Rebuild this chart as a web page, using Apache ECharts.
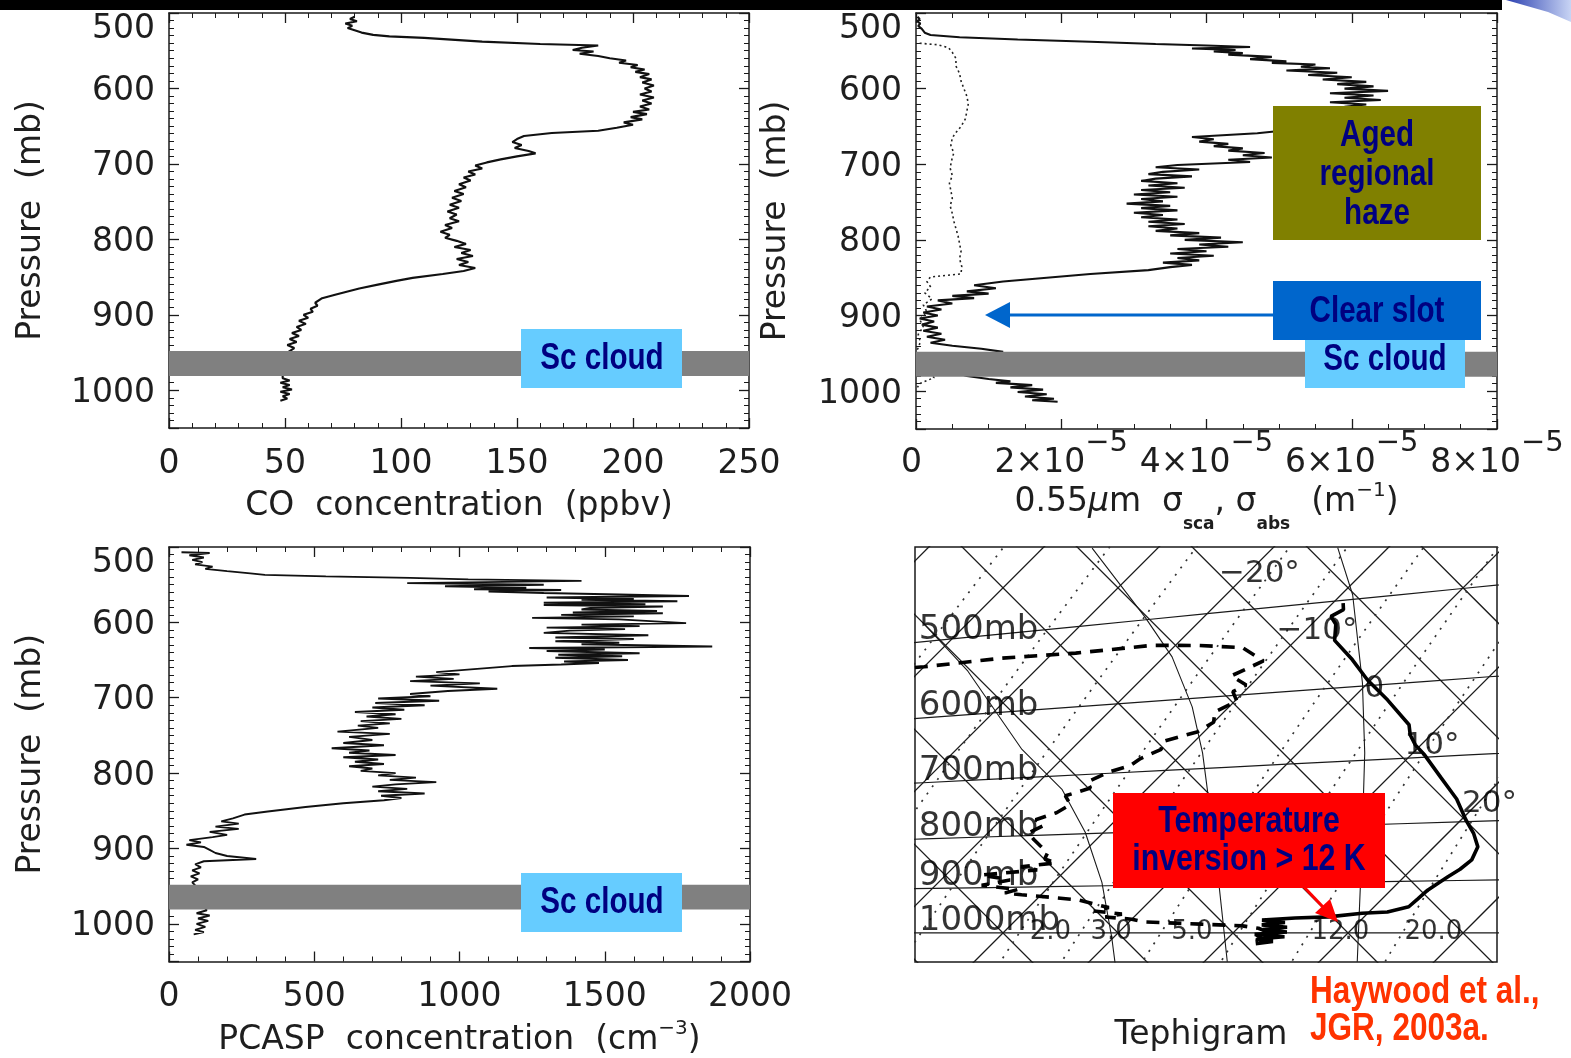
<!DOCTYPE html>
<html>
<head>
<meta charset="utf-8">
<title>Aerosol and thermodynamic profiles</title>
<script src="https://cdn.jsdelivr.net/npm/echarts@6/dist/echarts.min.js"></script>
<style>
  html, body { margin: 0; padding: 0; background: #fff; }
  #main { width: 1571px; height: 1058px; }
</style>
</head>
<body>
<div id="main"></div>
<script>
// ---- data ----
// [value, pressure mb]
const coProfile = [
  [80,505],[78,508],[81,511],[76,514],[79,517],[77,520],[80,523],[83,526],[88,529],[95,531],[110,533],[135,538],
  [160,541],[185,543],[178,546],[174,549],[183,551],[177,554],[185,557],[190,560],[197,563],[194,566],[202,569],
  [199,572],[205,575],[201,578],[207,581],[203,585],[208,588],[204,592],[209,596],[205,600],[208,604],[203,608],
  [209,612],[204,616],[208,620],[203,624],[207,628],[200,631],[206,634],[199,638],[204,641],[196,645],[200,648],
  [193,652],[185,656],[165,659],[153,663],[150,667],[148,671],[152,675],[149,679],[155,683],[158,686],[150,690],
  [143,694],[137,698],[132,702],[135,706],[129,710],[132,714],[127,718],[130,722],[125,727],[128,731],[123,736],
  [127,740],[122,745],[126,749],[121,754],[125,758],[120,763],[124,767],[121,772],[125,776],[119,781],[122,785],
  [117,790],[121,794],[119,798],[124,802],[128,806],[123,810],[130,814],[126,818],[131,822],[124,826],[129,830],
  [125,834],[132,838],[127,842],[118,846],[105,851],[98,855],[90,860],[82,865],[77,869],[72,873],[66,878],[63,884],
  [64,888],[61,892],[62,896],[58,900],[60,904],[56,908],[59,912],[55,916],[57,920],[53,924],[56,928],[52,932],
  [55,936],[51,940],[54,944],[52,948],[50,952],[51,960],[50,970],[49,980],
  [49,984],[52,987],[48,990],[52,993],[49,996],[53,999],[48,1002],[52,1005],[49,1008],[51,1011],[48,1014]
];
// 0.55 um scattering and absorption, in units of 1e-5 m^-1
const scatProfile = [
  [0.02,505],[0.05,508],[0.02,511],[0.06,514],[0.03,517],[0.08,521],[0.12,526],[0.2,529],[0.6,532],[1.4,535],
  [2.4,538],[3.3,541],[4.0,543],[4.6,545],[3.8,547],[4.4,549],[4.1,551],[4.5,553],[4.3,555],[4.9,558],[4.6,561],
  [5.1,564],[4.9,566],[5.5,568],[5.3,571],[5.7,573],[5.1,576],[5.8,579],[5.4,582],[6.0,585],[5.6,588],[6.2,591],
  [5.8,594],[6.3,597],[5.9,600],[6.5,603],[5.7,606],[6.3,609],[5.9,612],[6.4,615],[5.7,618],[6.2,621],[5.9,624],
  [6.0,630],[5.8,640],[5.5,650],[5.0,656],[4.7,659],[3.8,664],[4.1,667],[3.9,670],[4.3,673],[4.1,676],[4.5,679],
  [4.3,682],[4.8,685],[4.5,688],[4.9,691],[4.3,694],[4.6,697],[3.6,701],[3.3,704],[3.9,707],[3.4,710],[3.2,713],
  [3.8,716],[3.3,719],[3.1,722],[3.6,725],[3.2,728],[3.7,731],[3.1,734],[3.5,737],[3.0,740],[3.6,743],[3.1,746],
  [3.4,749],[2.9,752],[3.5,755],[3.1,758],[3.6,761],[3.0,764],[3.4,767],[3.1,770],[3.6,773],[3.2,776],[3.7,779],
  [3.2,782],[3.6,785],[3.3,788],[3.9,791],[3.5,794],[4.2,797],[3.7,800],[4.5,803],[3.9,806],[4.3,809],[3.6,812],
  [4.0,815],[3.5,818],[4.1,821],[3.6,824],[3.9,827],[3.4,830],[3.8,833],[3.5,836],[3.2,840],[2.4,845],[1.8,850],
  [1.2,855],[0.8,860],[1.1,864],[0.7,868],[1.0,871],[0.5,874],[0.8,877],[0.3,880],[0.5,884],[0.15,888],[0.35,892],
  [0.1,896],[0.3,900],[0.05,904],[0.25,908],[0.08,912],[0.3,916],[0.1,920],[0.35,924],[0.15,928],[0.4,932],
  [0.2,936],[0.5,940],[0.9,944],[1.2,948],[0.6,956],[0.3,968],[0.7,980],
  [1.0,984],[1.3,987],[1.1,989],[1.6,992],[1.3,995],[1.75,998],[1.4,1001],[1.8,1004],[1.5,1007],[1.9,1010],[1.6,1012],[1.95,1014]
];
const absProfile = [
  [0.05,540],[0.3,542],[0.45,546],[0.5,552],[0.55,560],[0.55,570],[0.6,580],[0.62,590],[0.66,600],[0.7,610],
  [0.72,620],[0.7,630],[0.68,640],[0.62,650],[0.55,658],[0.5,665],[0.48,675],[0.52,685],[0.49,695],[0.47,705],
  [0.5,715],[0.46,725],[0.48,735],[0.5,745],[0.47,755],[0.5,765],[0.52,775],[0.55,785],[0.58,795],[0.6,805],
  [0.62,815],[0.6,825],[0.63,835],[0.62,845],[0.2,849],[0.15,855],[0.2,862],[0.12,870],[0.22,878],[0.1,886],
  [0.15,895],[0.05,905],[0.1,915],[0.03,925],[0.06,935],[0.02,945],[0.05,965],
  [0.25,982],[0.15,986],[0.05,990],[0.02,995]
];
const pcaspProfile = [
  [43,507],[140,508],[70,511],[120,514],[80,517],[115,520],[90,523],[150,526],[125,529],[200,532],[280,535],
  [330,537],[540,539],[830,541],[1030,543],[1420,545],[1220,546],[820,548],[1290,550],[950,552],[1230,554],
  [1050,556],[1350,557],[1100,559],[1290,561],[1550,563],[1790,565],[1300,567],[1600,569],[1420,570],[1750,572],
  [1290,574],[1640,576],[1290,577],[1700,579],[1450,581],[1420,583],[1680,585],[1390,587],[1700,588],[1350,590],
  [1600,592],[1250,594],[1550,596],[1780,601],[1420,603],[1620,605],[1300,607],[1570,609],[1380,611],[1290,614],
  [1650,617],[1330,620],[1600,622],[1330,625],[1550,627],[1420,629],[1870,632],[1240,634],[1500,636],[1300,638],
  [1620,641],[1340,643],[1560,645],[1330,647],[1580,650],[1360,652],[1480,654],[1350,656],[1180,658],[1050,662],
  [920,666],[1000,669],[850,672],[980,675],[830,678],[1070,681],[900,684],[1130,688],[960,691],[830,695],[900,698],
  [720,701],[930,704],[710,707],[880,710],[700,713],[810,716],[640,719],[780,722],[680,725],[800,728],[660,731],
  [760,734],[650,737],[720,740],[580,745],[760,748],[620,752],[700,756],[600,760],[740,763],[560,767],[690,770],
  [620,773],[780,776],[600,779],[720,782],[640,785],[740,788],[620,791],[700,794],[660,797],[780,800],[720,803],
  [850,806],[760,809],[920,812],[780,815],[700,818],[820,821],[720,824],[880,827],[730,830],[800,833],[740,836],
  [600,840],[470,845],[340,851],[260,855],[220,860],[180,864],[240,867],[160,871],[240,874],[140,878],[200,882],
  [150,885],[70,889],[110,892],[60,895],[120,898],[140,902],[160,906],[200,910],[300,914],[120,917],[90,921],
  [110,925],[80,929],[105,933],[75,937],[100,941],[80,945],[90,949],[95,965],
  [130,982],[95,986],[140,989],[100,993],[135,996],[95,1000],[125,1004],[90,1008],[120,1011],[85,1014]
];
const scCloudBand = [948, 981];

const pressureRange = [500, 1050];
const pressureStep = 100;
const coRange = [0, 250];
const coStep = 50;
const sigmaRange = [0, 8];   // x 1e-5 m^-1
const sigmaStep = 2;
const pcaspRange = [0, 2000];
const pcaspStep = 500;

// tephigram sounding, [pressure mb, temperature C]
const tempProfile = [
  [503,-9.1],[510,-8.5],[516,-9.0],[525,-7.9],[543,-6.6],[567,-3.4],[593,-0.3],[620,3.2],[654,7.2],[668,8.2],
  [682,9.5],[697,11.2],[730,14.5],[764,17.8],[797,20.4],[820,22.3],[842,23.8],[864,24.4],[880,24.2],[893,23.8],
  [905,23.5],[917,23.2],[933,23.1],[948,23.0],[958,21.6],[960,19.5],[967,16.9],[969,14.1],[973,11.4],[978,13.6],
  [983,11.8],[988,14.2],[993,12.3],[998,14.6],[1003,12.0],[1008,14.8],[1013,12.6],[1018,14.2],[1023,12.9]
];
const dewProfile = [
  [530,-46],[531,-40],[529,-34],[531,-28],[530,-22],[535,-18],[542,-14],[560,-11],[575,-12.5],[588,-10.4],
  [595,-11],[608,-9.8],[620,-10.8],[634,-10],[646,-10.6],[657,-12.8],[668,-12.2],[680,-13.2],[690,-13.5],
  [698,-14.8],[712,-15.8],[722,-15],[733,-16.5],[748,-15.3],[761,-15.8],[772,-17],[783,-15.8],[795,-16.5],
  [808,-15.4],[820,-14.3],[833,-13.1],[845,-12.8],[853,-11.5],[859,-14.2],[866,-12.5],[874,-16.9],[885,-14],
  [895,-16],[905,-12.5],[912,-13.3],[916,-11.7],[922,-9],[928,-6.4],[935,-5],[945,-3],[952,-4],[959,-1.3],
  [965,-2.5],[970,0],[976,1.3],[981,6.4],[985,10.2],[990,11.8],[995,12.5],[1000,13.2],[1005,12.2],[1010,13.5],
  [1015,12.6],[1020,13.3]
];
// saturated adiabats, [T C, theta C]
const satAdiabats = [
  [[-35.7,31.2],[-25.1,29.8],[-19.3,28.7],[-13.2,26.1],[-8.3,23.0],[1.2,15.7],[12.0,7.0]],
  [[-43.7,10.0],[-35.8,9.7],[-24.3,7.6],[-17.3,7.6],[-11.6,5.9],[-5.8,3.0],[-0.2,-0.9],[2.4,-2.9]],
  [[-14.4,52.6],[-9.0,49.8],[-0.5,43.0],[5.8,37.1],[14.0,28.4],[23.3,18.3]]
];
const isobarLevels = [500, 600, 700, 800, 900, 1000];
const isothermValues = [-50, -40, -30, -20, -10, 0, 10, 20, 30];
const adiabatValues = [-20, -10, 0, 10, 20, 30, 40, 50, 60];
const mixingRatios = [0.2, 0.5, 1, 2, 3, 5, 8, 12, 20];
const mixingLabels = [2, 3, 5, 12, 20];
const isothermLabels = [-20, -10, 0, 10, 20];
const isothermLabelTheta = 42.5;
// visible window of the tephigram in (T+theta, theta-T)
const tephiX = [-35.3, 65.9];
const tephiY = [-5.05, 67.1];

// ---- tephigram helpers ----
const KAPPA = 0.286;
function tephiTT(T, th) { return [T + th, th - T]; }
function tephi(T, p) {
  const th = (T + 273.15) * Math.pow(1000 / p, KAPPA) - 273.15;
  return tephiTT(T, th);
}
function satTemp(e) { const l = Math.log(e / 6.112); return 243.5 * l / (17.67 - l); }
function isobarAtX(p, x) {
  const f = Math.pow(1000 / p, KAPPA);
  const T = (x + 273.15 - 273.15 * f) / (1 + f);
  return tephi(T, p);
}

const INK = '#1a1a1a';
const TXT = '#1e1e1e';
const FONT = 'DejaVu Sans';

function axis(dim, gi, position, range, step, minor, label, name) {
  const a = {
    gridIndex: gi, type: 'value', position: position,
    min: range[0], max: range[1], interval: step, inverse: dim === 'y',
    axisLine: { show: true, onZero: false, lineStyle: { color: INK, width: 1.5 } },
    axisTick: { show: true, inside: true, length: 10, lineStyle: { color: INK, width: 1.3 } },
    minorTick: { show: true, splitNumber: minor, length: 5, lineStyle: { color: INK, width: 1 } },
    splitLine: { show: false }, minorSplitLine: { show: false },
    axisLabel: label || { show: false }
  };
  if (name) {
    a.name = name.text;
    a.nameLocation = 'middle';
    a.nameGap = name.gap;
    a.nameTextStyle = name.style;
  }
  return a;
}

const plainTick = { margin: 20, fontSize: 33, color: TXT, fontFamily: FONT, formatter: v => String(v) };
const pressureLabel = {
  margin: 14, fontSize: 33, color: TXT, fontFamily: FONT, showMaxLabel: false,
  formatter: v => (v === pressureRange[0] ? '{t|' + v + '}' : '{n|' + v + '}'),
  rich: {
    n: { fontSize: 33, color: TXT, fontFamily: FONT, padding: [6, 0, 0, 0] },
    t: { fontSize: 33, color: TXT, fontFamily: FONT, padding: [32, 0, 0, 0] }
  }
};
const sigmaLabel = {
  margin: 0, color: TXT, fontFamily: FONT,
  formatter: v => (v === 0 ? '{b|0}{s| }' : '{b|' + v + '×10}{s|−5}'),
  rich: {
    b: { fontSize: 33, color: TXT, fontFamily: FONT },
    s: { fontSize: 29, color: TXT, fontFamily: FONT, padding: [0, 0, 40, 0] }
  }
};
const nameStyle = { fontSize: 33, color: TXT, fontFamily: FONT };
const pressureName = gap => ({ text: 'Pressure  (mb)', gap: gap, style: nameStyle });

const xAxes = [], yAxes = [];
function addFrame(gi, xRange, xStep, xMinor, xLabel, xName, yGap) {
  xAxes.push(axis('x', gi, 'bottom', xRange, xStep, xMinor, xLabel, xName));
  xAxes.push(axis('x', gi, 'top', xRange, xStep, xMinor, null, null));
  yAxes.push(axis('y', gi, 'left', pressureRange, pressureStep, 10, pressureLabel, pressureName(yGap)));
  yAxes.push(axis('y', gi, 'right', pressureRange, pressureStep, 10, null, null));
}
addFrame(0, coRange, coStep, 5, plainTick,
  { text: 'CO  concentration  (ppbv)', gap: 62, style: nameStyle }, 121);
addFrame(1, sigmaRange, sigmaStep, 4, sigmaLabel, {
  text: '{a|0.55}{mu|μ}{a|m  σ}{sub|sca}{a|, σ}{sub|abs}{a|  (m}{sup|−1}{a|)}', gap: 42,
  style: {
    fontSize: 33, color: TXT, fontFamily: FONT,
    rich: {
      a: { fontSize: 33, color: TXT, fontFamily: FONT },
      mu: { fontSize: 33, color: TXT, fontFamily: FONT, fontStyle: 'italic' },
      sub: { fontSize: 17, fontWeight: 'bold', color: TXT, fontFamily: FONT, padding: [44, 0, 0, 0] },
      sup: { fontSize: 20, color: TXT, fontFamily: FONT, padding: [0, 0, 24, 0] }
    }
  }
}, 123);
addFrame(2, pcaspRange, pcaspStep, 5, Object.assign({}, plainTick, { margin: 19 }), {
  text: '{a|PCASP  concentration  (cm}{sup|−3}{a|)}', gap: 57,
  style: {
    fontSize: 33, color: TXT, fontFamily: FONT,
    rich: {
      a: { fontSize: 33, color: TXT, fontFamily: FONT },
      sup: { fontSize: 20, color: TXT, fontFamily: FONT, padding: [0, 0, 24, 0] }
    }
  }
}, 121);
// tephigram: hidden rotated (T, theta) frame
xAxes.push({ gridIndex: 3, type: 'value', min: tephiX[0], max: tephiX[1], show: false });
yAxes.push({ gridIndex: 3, type: 'value', min: tephiY[0], max: tephiY[1], show: false });

const series = [];
function profile(xi, data, style) {
  series.push({
    type: 'line', xAxisIndex: xi, yAxisIndex: xi, data: data, symbol: 'none', showSymbol: false,
    silent: true, z: 3, lineStyle: style
  });
}
// grey Sc-cloud layer, drawn over the traces
function band(xi, xRange) {
  series.push({
    type: 'custom', xAxisIndex: xi, yAxisIndex: xi, z: 8, silent: true,
    data: [[xRange[0], scCloudBand[0], xRange[1], scCloudBand[1]]],
    encode: { x: [0, 2], y: [1, 3] },
    renderItem: (params, api) => {
      const a = api.coord([api.value(0), api.value(1)]);
      const b = api.coord([api.value(2), api.value(3)]);
      return { type: 'rect', shape: { x: a[0], y: a[1], width: b[0] - a[0], height: b[1] - a[1] },
        style: { fill: '#808080' } };
    }
  });
}
const traceStyle = { color: '#111', width: 2.1 };
profile(0, coProfile, traceStyle);
band(0, coRange);
profile(2, scatProfile, traceStyle);
profile(2, absProfile, { color: '#222', width: 1.6, type: [2, 3] });
band(2, sigmaRange);
profile(4, pcaspProfile, { color: '#111', width: 1.9 });
band(4, pcaspRange);

function tline(data, style, z) {
  series.push({
    type: 'line', xAxisIndex: 6, yAxisIndex: 6, data: data, symbol: 'none', showSymbol: false,
    silent: true, z: z || 2, lineStyle: style
  });
}
const gridStyle = { color: INK, width: 1.3 };
isothermValues.forEach(T => tline([tephiTT(T, -40), tephiTT(T, 90)], gridStyle));
adiabatValues.forEach(th => tline([tephiTT(-70, th), tephiTT(50, th)], gridStyle));
isobarLevels.forEach(p => {
  const pts = [];
  for (let T = -70; T <= 45; T += 5) pts.push(tephi(T, p));
  tline(pts, { color: INK, width: 1.2 });
});
mixingRatios.forEach(w => {
  const pts = [];
  for (let p = 1060; p >= 400; p -= 20) pts.push(tephi(satTemp(w * p / (622 + w)), p));
  tline(pts, { color: '#333', width: 1.7, type: [2, 7] });
});
satAdiabats.forEach(c => tline(c.map(d => tephiTT(d[0], d[1])), { color: INK, width: 1.1 }));
tline(tempProfile.map(d => tephi(d[1], d[0])), { color: '#000', width: 3.6 }, 4);
tline(dewProfile.map(d => tephi(d[1], d[0])), { color: '#000', width: 3.6, type: [13, 9] }, 4);

function tlabels(data, label) {
  series.push({
    type: 'scatter', xAxisIndex: 6, yAxisIndex: 6, data: data, symbolSize: 1, silent: true, z: 5,
    itemStyle: { color: 'transparent' },
    label: Object.assign({ show: true, formatter: '{b}', color: '#000', fontFamily: FONT }, label)
  });
}
tlabels(isobarLevels.map(p => ({ name: p + 'mb', value: isobarAtX(p, tephiX[0] + 0.4) })),
  { position: 'right', distance: 1, offset: [0, -12], fontSize: 34 });
tlabels(isothermLabels.map(T => ({ name: T === 0 ? '0' : (T < 0 ? '−' + (-T) : T) + '°',
  value: tephiTT(T, isothermLabelTheta) })),
  { position: 'inside', offset: [12, 0], fontSize: 31 });
tlabels(mixingLabels.map(w => ({ name: w.toFixed(1), value: tephi(satTemp(w * 1000 / (622 + w)), 1000) })),
  { position: 'inside', offset: [31, -1], fontSize: 26 });

// ---- annotations ----
function box(x, y, w, h, fill) {
  return { type: 'rect', z: 100, shape: { x: x, y: y, width: w, height: h }, style: { fill: fill } };
}
// bold sans squeezed horizontally to get the narrow poster face
function label(text, x, y, size, fill, align, squeeze) {
  return { type: 'text', z: 101, x: x, y: y, scaleX: squeeze || 0.8, style: {
    text: text, x: 0, y: 0, font: 'bold ' + size + 'px "Liberation Sans", Arial, sans-serif', fill: fill,
    align: align || 'center', verticalAlign: 'middle', textAlign: align || 'center', textVerticalAlign: 'middle' } };
}
const navy = '#000080';
const graphics = [
  box(0, 0, 1502, 10, '#000'),
  { type: 'polygon', z: 100, shape: { points: [[1506, 0], [1571, 0], [1571, 22], [1548, 12]] },
    style: { fill: new echarts.graphic.LinearGradient(0, 0, 1, 0, [
      { offset: 0, color: '#2a3fb0' }, { offset: 1, color: '#c8d4f4' }]) } },
  box(521, 329, 161, 59, '#66CCFF'), label('Sc cloud', 602, 359, 37, navy),
  box(1273, 106, 208, 134, '#808000'),
  label('Aged', 1377, 136, 37, navy), label('regional', 1377, 175, 37, navy),
  label('haze', 1377, 214, 37, navy),
  box(1305, 340, 160, 48, '#66CCFF'), label('Sc cloud', 1385, 360, 37, navy),
  box(1273, 281, 208, 59, '#0066CC'), label('Clear slot', 1377, 312, 37, navy),
  { type: 'line', z: 100, shape: { x1: 1273, y1: 315, x2: 1005, y2: 315 }, style: { stroke: '#0066CC', lineWidth: 3 } },
  { type: 'polygon', z: 100, shape: { points: [[985, 315], [1010, 302], [1010, 328]] }, style: { fill: '#0066CC' } },
  box(521, 873, 161, 59, '#66CCFF'), label('Sc cloud', 602, 903, 37, navy),
  box(1113, 793, 272, 95, '#FF0000'),
  label('Temperature', 1249, 822, 37, navy, 'center', 0.82),
  label('inversion > 12 K', 1249, 860, 37, navy, 'center', 0.82),
  { type: 'line', z: 100, shape: { x1: 1303, y1: 886, x2: 1324, y2: 908 }, style: { stroke: '#FF0000', lineWidth: 3 } },
  { type: 'polygon', z: 100, shape: { points: [[1338, 922], [1315, 913], [1330, 899]] }, style: { fill: '#FF0000' } },
  { type: 'text', z: 101, x: 1201, y: 1035, style: { text: 'Tephigram', x: 0, y: 0, font: '33px "DejaVu Sans"',
    fill: TXT, align: 'center', verticalAlign: 'middle', textAlign: 'center', textVerticalAlign: 'middle' } },
  label('Haywood et al.,', 1310, 993, 38, '#FF3300', 'left', 0.83),
  label('JGR, 2003a.', 1310, 1030, 38, '#FF3300', 'left', 0.83)
];

const chart = echarts.init(document.getElementById('main'), null, { renderer: 'canvas' });
chart.setOption({
  animation: false,
  backgroundColor: '#fff',
  textStyle: { fontFamily: FONT },
  grid: [
    { left: 169, top: 13, width: 580, height: 415 },
    { left: 916, top: 13, width: 581, height: 416 },
    { left: 169, top: 547, width: 581, height: 415 },
    { left: 915, top: 547, width: 582, height: 415, show: true, borderColor: INK, borderWidth: 1.5,
      backgroundColor: 'transparent' }
  ],
  xAxis: xAxes,
  yAxis: yAxes,
  series: series,
  graphic: graphics
});
</script>
</body>
</html>
